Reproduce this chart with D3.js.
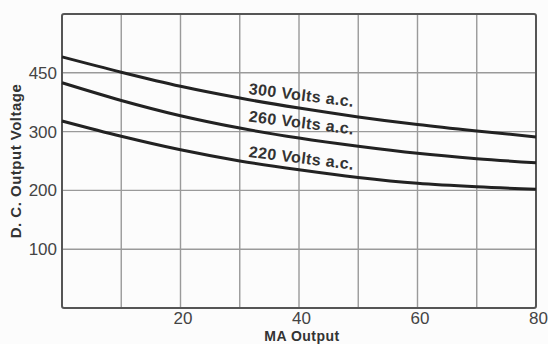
<!DOCTYPE html>
<html>
<head>
<meta charset="utf-8">
<script src="https://cdn.jsdelivr.net/npm/d3@7"></script>
<style>
  body { margin: 0; background: #fcfcfc; }
  svg { display: block; font-family: "Liberation Sans", Arial, sans-serif; }
</style>
</head>
<body>
<div id="chart"></div>
<script>
// MA output (x) and DC output voltage for each a.c. supply
const maOutput = [0, 10, 20, 30, 40, 50, 60, 70, 80];
const volts300 = [427, 401, 377, 357, 340, 325, 312, 301, 291];
const volts260 = [383, 353, 327, 306, 289, 275, 263, 254, 247];
const volts220 = [318, 292, 269, 250, 235, 222, 212, 206, 202];

const seriesNames = ["300 Volts a.c.", "260 Volts a.c.", "220 Volts a.c."];
const labelAt = [[40.3, 353], [40.3, 306], [40.3, 246]];   // where each curve label sits (data units)

const xTickValues = [20, 40, 60, 80];
const yTickValues = [100, 200, 300, 400];
const yTickLabels = ["100", "200", "300", "450"];

const W = 548, H = 344;
let margin = {top: 14, right: 12, bottom: 36, left: 62},
    width = W - margin.left - margin.right,
    height = H - margin.top - margin.bottom;

let svg = d3.select("#chart").append("svg")
    .attr("width", W)
    .attr("height", H);

let g = svg.append("g")
    .attr("transform", "translate(" + margin.left + "," + margin.top + ")");

let x = d3.scaleLinear().domain([0, 80]).range([0, width]);
let y = d3.scaleLinear().domain([0, 500]).range([height, 0]);

// grid
g.append("g")
    .selectAll("line")
    .data(d3.range(10, 80, 10))
    .enter().append("line")
    .attr("x1", d => x(d)).attr("x2", d => x(d))
    .attr("y1", 0).attr("y2", height)
    .style("stroke", "#9a9a9a")
    .style("stroke-width", 1.4);

g.append("g")
    .selectAll("line")
    .data(d3.range(100, 500, 100))
    .enter().append("line")
    .attr("x1", 0).attr("x2", width)
    .attr("y1", d => y(d)).attr("y2", d => y(d))
    .style("stroke", "#9a9a9a")
    .style("stroke-width", 1.4);

// frame
g.append("rect")
    .attr("x", 0).attr("y", 0)
    .attr("width", width).attr("height", height)
    .attr("rx", 2)
    .style("fill", "none")
    .style("stroke", "#555")
    .style("stroke-width", 2);

// axes (labels only)
let xAxis = g.append("g")
    .attr("transform", "translate(0," + height + ")")
    .call(d3.axisBottom(x).tickValues(xTickValues).tickSize(0).tickPadding(4));
xAxis.select(".domain").remove();
xAxis.selectAll("text")
    .attr("dx", 2)
    .style("font-size", "17px")
    .style("fill", "#444");

let yAxis = g.append("g")
    .call(d3.axisLeft(y).tickValues(yTickValues).tickSize(0).tickPadding(5)
        .tickFormat((d, i) => yTickLabels[i]));
yAxis.select(".domain").remove();
yAxis.selectAll("text")
    .style("font-size", "17px")
    .style("fill", "#444");

// curves
let line = d3.line()
    .x((d, i) => x(maOutput[i]))
    .y(d => y(d))
    .curve(d3.curveMonotoneX);

[volts300, volts260, volts220].forEach(function(s) {
    g.append("path")
        .datum(s)
        .attr("d", line)
        .style("fill", "none")
        .style("stroke", "#222")
        .style("stroke-width", 3);
});

// curve labels
g.selectAll(".curve-label")
    .data(seriesNames)
    .enter().append("text")
    .attr("class", "curve-label")
    .attr("transform", (d, i) => "translate(" + x(labelAt[i][0]) + "," + y(labelAt[i][1]) + ") rotate(7)")
    .attr("text-anchor", "middle")
    .style("font-size", "16px")
    .style("font-weight", "bold")
    .style("letter-spacing", "0.4px")
    .style("fill", "#333")
    .text(d => d);

// axis titles
svg.append("text")
    .attr("x", margin.left + x(40) + 3)
    .attr("y", 341)
    .attr("text-anchor", "middle")
    .style("font-size", "14px")
    .style("font-weight", "bold")
    .style("letter-spacing", "0.5px")
    .style("fill", "#333")
    .text("MA Output");

svg.append("text")
    .attr("transform", "translate(21," + 161 + ") rotate(-90)")
    .attr("text-anchor", "middle")
    .style("font-size", "15px")
    .style("font-weight", "bold")
    .style("letter-spacing", "0.5px")
    .style("fill", "#333")
    .text("D. C. Output Voltage");
</script>
</body>
</html>
